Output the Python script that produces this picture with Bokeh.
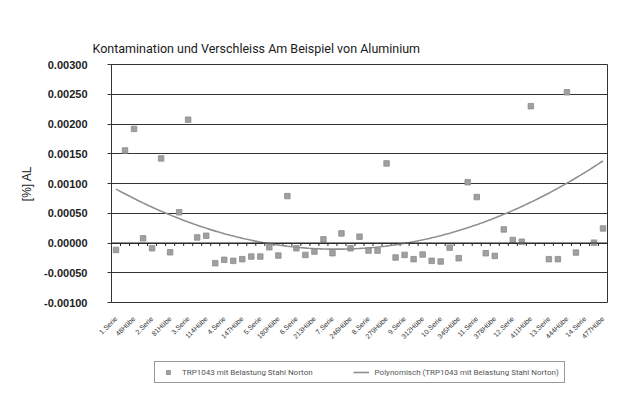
import numpy as np
from math import pi
from bokeh.plotting import figure
from bokeh.layouts import column
from bokeh.models import (FixedTicker, NumeralTickFormatter, Span, Legend, LegendItem,
                          ColumnDataSource, Range1d)
from bokeh.embed import file_html
from bokeh.resources import INLINE

# ---- data -------------------------------------------------------------
tick_labels = ["1.Serie", "48Hübe", "2.Serie", "81Hübe", "3.Serie", "114Hübe",
               "4.Serie", "147Hübe", "5.Serie", "180Hübe", "6.Serie", "213Hübe",
               "7.Serie", "246Hübe", "8.Serie", "279Hübe", "9.Serie", "312Hübe",
               "10.Serie", "345Hübe", "11.Serie", "378Hübe", "12.Serie", "411Hübe",
               "13.Serie", "444Hübe", "14.Serie", "477Hübe"]

# two measurements (index 47 and 52) lie above the axis maximum and are not
# visible; their estimate follows from the drawn trend line
values = [-0.000117, 0.001555, 0.001917, 0.000078, -0.000089, 0.001422, -0.000156,
          0.000517, 0.002072, 0.000094, 0.000122, -0.000339, -0.000283, -0.000300,
          -0.000272, -0.000228, -0.000228, -0.000072, -0.000211, 0.000788, -0.000089,
          -0.000200, -0.000144, 0.000061, -0.000172, 0.000161, -0.000089, 0.000106,
          -0.000128, -0.000128, 0.001338, -0.000244, -0.000200, -0.000272, -0.000194,
          -0.000300, -0.000311, -0.000078, -0.000256, 0.001022, 0.000772, -0.000172,
          -0.000217, 0.000228, 0.000050, 0.000022, 0.002300, 0.003600, -0.000272,
          -0.000272, 0.002533, -0.000161, 0.003600, 0.000006, 0.000244]

y_ticks = [-0.001, -0.0005, 0.0, 0.0005, 0.001, 0.0015, 0.002, 0.0025, 0.003]

series_name = "TRP1043 mit Belastung Stahl Norton"
trend_name = "Polynomisch (TRP1043 mit Belastung Stahl Norton)"
title_text = "Kontamination und Verschleiss Am Beispiel von Aluminium"

# ---- derived ----------------------------------------------------------
n = len(values)
xs_pts = np.arange(n)
ys_pts = np.array(values, dtype=float)

coef = np.polyfit(xs_pts, ys_pts, 2)          # Excel "Polynomisch" (order 2)
x_fit = np.linspace(0, n - 1, 200)
y_fit = np.polyval(coef, x_fit)

tick_pos = list(range(0, n, 2))[:len(tick_labels)]
overrides = {t: lab for t, lab in zip(tick_pos, tick_labels)}

# ---- main figure ------------------------------------------------------
p = figure(width=612, height=345, x_range=(-0.5, n - 0.5), y_range=(y_ticks[0], y_ticks[-1]),
           output_backend="svg", toolbar_location=None,
           min_border_left=111, min_border_right=5, min_border_top=64, min_border_bottom=43)

p.title.text = title_text
p.title.align = "left"
p.title.offset = -19
p.title.text_font = "Roboto"
p.title.text_font_size = "12.5px"
p.title.text_font_style = "normal"
p.title.text_color = "#1a1a1a"
p.title.standoff = 17

p.outline_line_color = "#333333"
p.outline_line_width = 1
p.background_fill_color = "white"
p.border_fill_color = "white"

p.xgrid.visible = False
p.ygrid.ticker = FixedTicker(ticks=y_ticks)
p.ygrid.grid_line_color = "#333333"
p.ygrid.grid_line_width = 1

# y axis
ya = p.yaxis[0]
ya.ticker = FixedTicker(ticks=y_ticks)
ya.formatter = NumeralTickFormatter(format="0.00000")
ya.major_label_text_font = "Liberation Sans"
ya.major_label_text_font_size = "11px"
ya.major_label_text_font_style = "bold"
ya.major_label_text_color = "#222222"
ya.major_label_standoff = 20
ya.major_tick_out = 4
ya.major_tick_in = 0
ya.minor_tick_line_color = None
ya.axis_line_color = "#333333"
ya.major_tick_line_color = "#333333"
ya.axis_label = "[%] AL"
ya.axis_label_text_font = "Liberation Sans"
ya.axis_label_text_font_size = "12px"
ya.axis_label_text_font_style = "normal"
ya.axis_label_text_color = "#222222"
ya.axis_label_standoff = 7

# x axis (labels only, under the plot area)
xa = p.xaxis[0]
xa.ticker = FixedTicker(ticks=tick_pos)
xa.major_label_overrides = overrides
xa.major_label_orientation = pi / 4
xa.major_label_text_font = "Liberation Sans"
xa.major_label_text_font_size = "7px"
xa.major_label_text_color = "#333333"
xa.major_label_standoff = 9
xa.axis_line_color = None
xa.major_tick_line_color = None
xa.minor_tick_line_color = None

# zero axis line with category tick marks
p.add_layout(Span(location=0, dimension="width", line_color="#222222", line_width=1.2))
bounds = np.arange(n + 1) - 0.5
p.segment(x0=bounds, y0=np.zeros(n + 1), x1=bounds, y1=np.full(n + 1, -0.00005),
          line_color="#222222", line_width=1)

# data
src = ColumnDataSource(dict(x=xs_pts, y=ys_pts))
fit_src = ColumnDataSource(dict(x=x_fit, y=y_fit))
sc_style = dict(marker="square", size=5.5, fill_color="#a0a0a0", line_color="#8c8c8c",
                line_width=0.8)
ln_style = dict(line_color="#8f8f8f", line_width=1.6)
p.scatter("x", "y", source=src, **sc_style)
p.line("x", "y", source=fit_src, **ln_style)

# ---- legend strip (same series; its ranges keep the marks out of view) --
p2 = figure(width=612, height=55, output_backend="svg", toolbar_location=None,
            min_border=0, x_range=Range1d(-0.5, n - 0.5), y_range=Range1d(1.0, 2.0))
p2.axis.visible = False
p2.grid.visible = False
p2.outline_line_color = None
p2.background_fill_color = "white"
p2.border_fill_color = "white"
sc2 = p2.scatter("x", "y", source=src, **sc_style)
ln2 = p2.line("x", "y", source=fit_src, **ln_style)

legend = Legend(items=[LegendItem(label=series_name, renderers=[sc2]),
                       LegendItem(label=trend_name, renderers=[ln2])],
                orientation="horizontal", location=(43, 17))
legend.label_text_font = "Roboto"
legend.label_text_font_size = "8px"
legend.label_text_color = "#555555"
legend.border_line_color = "#333333"
legend.border_line_width = 1
legend.background_fill_alpha = 0
legend.spacing = 40
legend.padding = 5
legend.margin = 0
legend.glyph_width = 16
legend.glyph_height = 10
legend.label_standoff = 6
legend.label_height = 10
p2.add_layout(legend, "center")

layout = column(p, p2, spacing=0)
open("out.html", "w").write(file_html(layout, INLINE))
